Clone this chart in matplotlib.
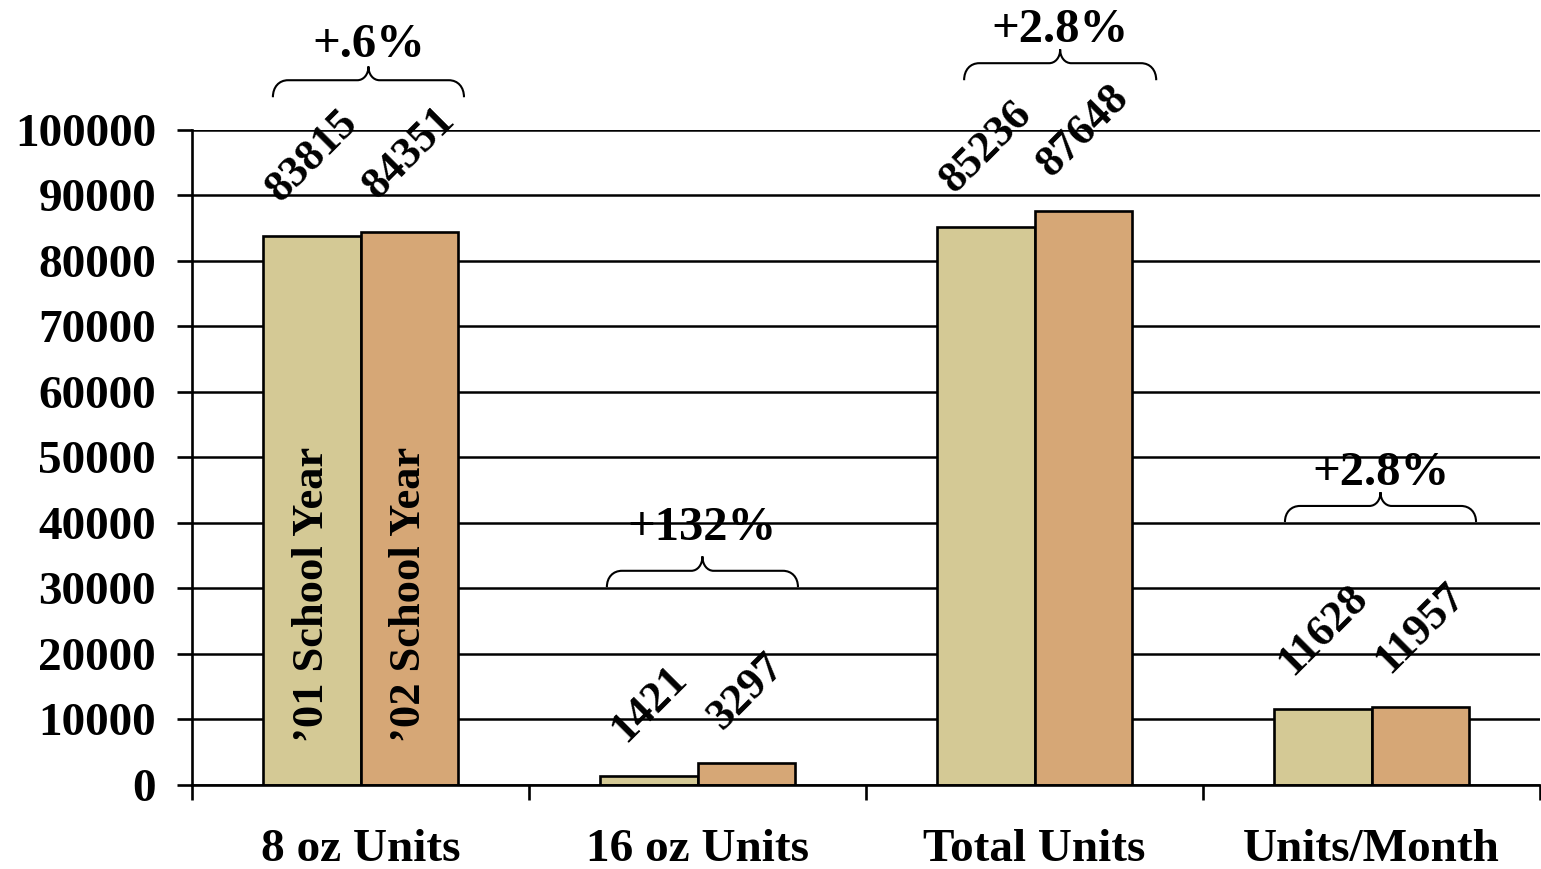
import matplotlib
matplotlib.use("Agg")
import matplotlib.pyplot as plt
from matplotlib.path import Path
from matplotlib.patches import PathPatch
import numpy as np

# Data
categories = ["8 oz Units", "16 oz Units", "Total Units", "Units/Month"]
year_01 = [83815, 1421, 85236, 11628]
year_02 = [84351, 3297, 87648, 11957]
series_names = ["\u201901 School Year", "\u201902 School Year"]
pct_labels = ["+.6%", "+132%", "+2.8%", "+2.8%"]
y_ticks = [0, 10000, 20000, 30000, 40000, 50000, 60000, 70000, 80000, 90000, 100000]

color_01 = "#D4C995"
color_02 = "#D6A776"

plt.rcParams["font.family"] = ["Liberation Serif", "DejaVu Serif"]
plt.rcParams["font.weight"] = "bold"

fig = plt.figure(figsize=(15.41, 8.69), dpi=100)
ax = fig.add_axes([0.1246, 0.0967, 0.8748, 0.7537])

x = np.arange(len(categories))
w = 0.289
b1 = ax.bar(x - w / 2, year_01, w, color=color_01, edgecolor="black", linewidth=1.9, zorder=3)
b2 = ax.bar(x + w / 2, year_02, w, color=color_02, edgecolor="black", linewidth=1.9, zorder=3)

ax.set_xlim(-0.5, 3.5)
ax.set_ylim(0, 100000)
ax.set_yticks(y_ticks)
ax.set_yticklabels([str(t) for t in y_ticks], fontsize=34, fontweight="bold")
ax.tick_params(axis="y", direction="out", length=11, width=1.9, pad=15)
ax.yaxis.grid(True, color="black", linewidth=1.8, zorder=0)
ax.set_axisbelow(True)

ax.set_xticks(x)
ax.set_xticklabels(categories, fontsize=34, fontweight="bold")
ax.tick_params(axis="x", which="major", length=0, pad=32)
ax.set_xticks(np.arange(-0.5, 3.6, 1.0), minor=True)
ax.tick_params(axis="x", which="minor", direction="out", length=11, width=1.9)

for side in ["top", "right"]:
    ax.spines[side].set_visible(False)
for side in ["left", "bottom"]:
    ax.spines[side].set_linewidth(1.9)
    ax.spines[side].set_zorder(4)

# Value labels above bars, rotated
for bars, vals in ((b1, year_01), (b2, year_02)):
    for rect, v in zip(bars, vals):
        ax.annotate(str(v), (rect.get_x() + rect.get_width() / 2, v),
                    xytext=(0, 19), textcoords="offset points",
                    rotation=45, ha="center", va="bottom",
                    fontsize=32, fontweight="bold", annotation_clip=False)

# Series names written inside the first pair of bars
for rect, name in zip((b1[0], b2[0]), series_names):
    ax.text(rect.get_x() + rect.get_width() / 2, 6500, name, rotation=90,
            ha="center", va="bottom", fontsize=32, fontweight="bold", zorder=5)


def brace(ax, x0, x1, yb, yh, yp, xm=None, r1=0.045, r2=0.033):
    """Curly brace opening downward, from x0 to x1 with its tip at xm."""
    if xm is None:
        xm = (x0 + x1) / 2
    verts = [
        (x0, yb),
        (x0, yb + 0.6 * (yh - yb)), (x0 + 0.4 * r1, yh), (x0 + r1, yh),
        (xm - r2, yh),
        (xm - 0.45 * r2, yh), (xm, yh + 0.4 * (yp - yh)), (xm, yp),
        (xm, yh + 0.4 * (yp - yh)), (xm + 0.45 * r2, yh), (xm + r2, yh),
        (x1 - r1, yh),
        (x1 - 0.4 * r1, yh), (x1, yb + 0.6 * (yh - yb)), (x1, yb),
    ]
    codes = [Path.MOVETO,
             Path.CURVE4, Path.CURVE4, Path.CURVE4,
             Path.LINETO,
             Path.CURVE4, Path.CURVE4, Path.CURVE4,
             Path.CURVE4, Path.CURVE4, Path.CURVE4,
             Path.LINETO,
             Path.CURVE4, Path.CURVE4, Path.CURVE4]
    ax.add_patch(PathPatch(Path(verts, codes), facecolor="none", edgecolor="black",
                           linewidth=1.5, clip_on=False, zorder=6))


brace_specs = [  # x0, x1, bottom, horizontal, tip, label y
    (-0.260, 0.307, 105000, 107600, 109700, 113000),
    (0.731, 1.298, 30200, 32700, 34900, 39300),
    (1.791, 2.361, 107600, 110200, 112300, 115200),
    (2.743, 3.310, 40150, 42600, 44700, 47700),
]
for (x0, x1, yb, yh, yp, yl), lab in zip(brace_specs, pct_labels):
    brace(ax, x0, x1, yb, yh, yp)
    ax.text((x0 + x1) / 2, yl, lab, ha="center", va="center",
            fontsize=35, fontweight="bold", clip_on=False, zorder=7)

fig.savefig("out.png", dpi=100)
